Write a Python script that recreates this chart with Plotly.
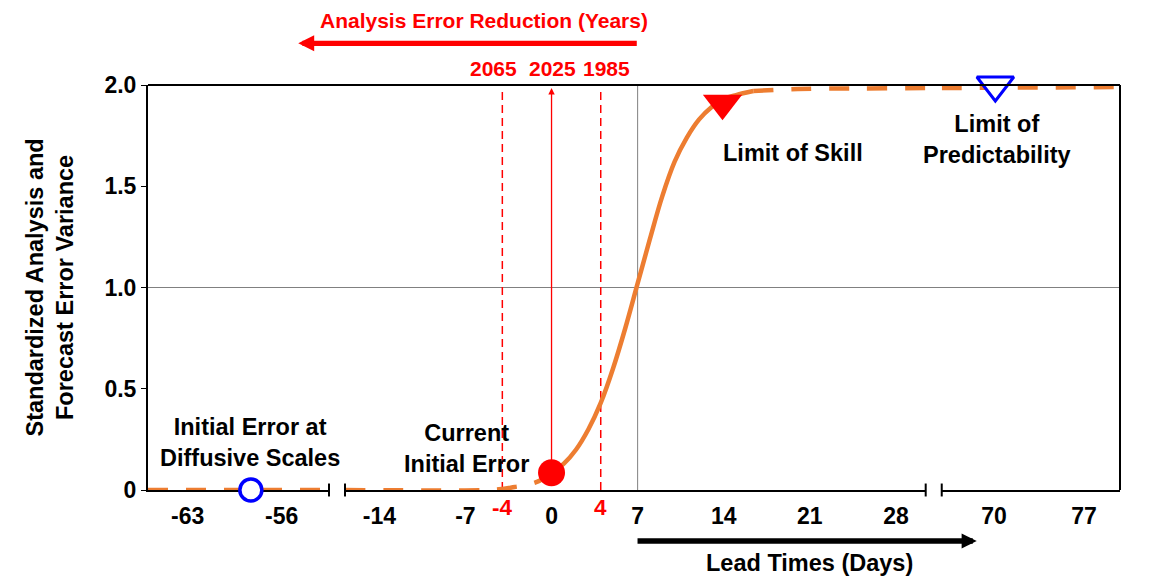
import plotly.graph_objects as go

# broken lead-time axis: three windows of days
seg_ranges = [[-65.96, -52.48], [-16.79, 30.42], [65.93, 79.8]]
seg_ticks = [[-63, -56], [-14, -7, 0, 7, 14, 21, 28], [70, 77]]
var_ticks = [0, 0.5, 1.0, 1.5, 2.0]
var_ticktext = ["0", "0.5", "1.0", "1.5", "2.0"]

# error variance
diffusive_days = [-65.96, -52.48]
diffusive_var = [0, 0]
pre_days = [-16.79, -5, -4, -3, -2, -1, 0]
pre_var = [0, 0, 0.005, 0.015, 0.025, 0.045, 0.085]
growth_days = [0, 1, 2, 3, 4, 5, 6, 7, 8, 9, 10, 11, 12, 13, 14, 15, 16.4]
growth_var = [0.085, 0.13, 0.2, 0.3, 0.43, 0.6, 0.8, 1.02, 1.24, 1.45,
              1.62, 1.74, 1.83, 1.89, 1.93, 1.95, 1.97]
sat_days = [16.4, 20, 25, 30.42]
sat_var = [1.97, 1.98, 1.983, 1.985]
far_days = [65.93, 79.8]
far_var = [1.985, 1.99]

# analysis error reduction (years vs. initial-error lead)
year_days = [-4, 0, 4]
year_labels = ["2065", "2025", "1985"]
year_top = 1.985

# markers
current_err = [0, 0.085]
diffusive_err = [-58.3, 0]
skill_limit = [13.9, 1.91]
predict_limit = [70.1, 2.0]

ORANGE = "#ED7D31"
RED = "#FF0000"
BLUE = "#0000FF"
FONT = "Liberation Sans, Arial, sans-serif"
DASH = "20px,18px"

fig = go.Figure()

# red dashed reference lines at +-4 days
for d in year_days:
    if d == 0:
        continue
    fig.add_trace(go.Scatter(x=[d, d], y=[0, year_top], mode="lines", xaxis="x2", yaxis="y",
                             line=dict(color=RED, width=1.5, dash="8px,5px"),
                             hoverinfo="skip", cliponaxis=False))

# orange error curve, split over the broken axis
fig.add_trace(go.Scatter(x=diffusive_days, y=diffusive_var, mode="lines", xaxis="x", yaxis="y",
                         line=dict(color=ORANGE, width=4.5, dash=DASH), cliponaxis=False))
fig.add_trace(go.Scatter(x=pre_days, y=pre_var, mode="lines", xaxis="x2", yaxis="y",
                         line=dict(color=ORANGE, width=4.5, dash=DASH, shape="spline"), cliponaxis=False))
fig.add_trace(go.Scatter(x=growth_days, y=growth_var, mode="lines", xaxis="x2", yaxis="y",
                         line=dict(color=ORANGE, width=4.5, shape="spline"), cliponaxis=False))
fig.add_trace(go.Scatter(x=sat_days, y=sat_var, mode="lines", xaxis="x2", yaxis="y",
                         line=dict(color=ORANGE, width=4.5, dash=DASH, shape="spline"), cliponaxis=False))
fig.add_trace(go.Scatter(x=far_days, y=far_var, mode="lines", xaxis="x3", yaxis="y",
                         line=dict(color=ORANGE, width=4.5, dash=DASH), cliponaxis=False))

# markers
fig.add_trace(go.Scatter(x=[diffusive_err[0]], y=[diffusive_err[1]], mode="markers", xaxis="x", yaxis="y",
                         marker=dict(symbol="circle", size=22, color="white", line=dict(color=BLUE, width=3.5)),
                         cliponaxis=False))
fig.add_trace(go.Scatter(x=[current_err[0]], y=[current_err[1]], mode="markers", xaxis="x2", yaxis="y",
                         marker=dict(symbol="circle", size=27, color=RED), cliponaxis=False))
fig.add_trace(go.Scatter(x=[skill_limit[0]], y=[skill_limit[1]], mode="markers", xaxis="x2", yaxis="y",
                         marker=dict(symbol="triangle-down", size=34, color=RED), cliponaxis=False))
fig.add_trace(go.Scatter(x=[predict_limit[0]], y=[predict_limit[1]], mode="markers", xaxis="x3", yaxis="y",
                         marker=dict(symbol="triangle-down", size=32, color="white",
                                     line=dict(color=BLUE, width=3)), cliponaxis=False))

xcommon = dict(showgrid=False, zeroline=False, showline=True, linecolor="black", linewidth=2,
               ticks="", ticklabelstandoff=4, layer="below traces",
               tickfont=dict(family=FONT, size=23, color="black", weight="bold"))

# the page body adds an 8px offset, so the margins are pulled in by 8px
fig.update_layout(
    width=1166, height=585,
    margin=dict(l=140, r=54, t=77, b=103),
    paper_bgcolor="white", plot_bgcolor="white",
    showlegend=False,
    xaxis=dict(domain=[0.0, 0.1862], range=seg_ranges[0], tickvals=seg_ticks[0],
               ticktext=[str(v) for v in seg_ticks[0]], anchor="y", **xcommon),
    xaxis2=dict(domain=[0.2027, 0.8001], range=seg_ranges[1], tickvals=seg_ticks[1],
                ticktext=[str(v) for v in seg_ticks[1]], anchor="y", **xcommon),
    xaxis3=dict(domain=[0.8166, 1.0], range=seg_ranges[2], tickvals=seg_ticks[2],
                ticktext=[str(v) for v in seg_ticks[2]], anchor="y", **xcommon),
    yaxis=dict(range=[0, 2], tickvals=var_ticks, ticktext=var_ticktext, anchor="x",
               showgrid=False, zeroline=False, showline=True, linecolor="black", linewidth=2,
               ticks="outside", ticklen=5, tickwidth=1, tickcolor="black", ticklabelstandoff=0,
               layer="below traces",
               tickfont=dict(family=FONT, size=23, color="black", weight="bold")),
)

# frame, grid lines and axis break marks
shapes = [
    dict(type="line", xref="paper", yref="paper", x0=0, x1=1, y0=1, y1=1, line=dict(color="black", width=2)),
    dict(type="line", xref="paper", yref="paper", x0=1, x1=1, y0=0, y1=1, line=dict(color="black", width=2)),
    dict(type="line", xref="paper", yref="y", x0=0, x1=1, y0=1, y1=1, layer="below",
         line=dict(color="#808080", width=1)),
    dict(type="line", xref="x2", yref="paper", x0=7, x1=7, y0=0, y1=1, layer="below",
         line=dict(color="#808080", width=1)),
]
for ax_ref, pos in [("x domain", 1), ("x2 domain", 0), ("x2 domain", 1), ("x3 domain", 0)]:
    shapes.append(dict(type="line", xref=ax_ref, yref="paper", x0=pos, x1=pos, y0=-0.016, y1=0.016,
                       line=dict(color="black", width=2)))
fig.update_layout(shapes=shapes)

black = dict(family=FONT, size=23.5, color="black", weight="bold")
red = dict(family=FONT, size=21, color=RED, weight="bold")
red_tick = dict(family=FONT, size=22.5, color=RED, weight="bold")

ann = []
ann.append(dict(text="Analysis Error Reduction (Years)", xref="paper", yref="paper", x=0.3459, y=1.1588,
                showarrow=False, font=red, xanchor="center", yanchor="middle"))
ann.append(dict(text="", xref="paper", yref="paper", x=0.1546, y=1.103, ax=340, ay=0,
                showarrow=True, arrowhead=2, arrowsize=0.6, arrowwidth=5.3, arrowcolor=RED))
for d, lab, shift in zip(year_days, year_labels, [-9, 1, 6]):
    ann.append(dict(text=lab, xref="x2", yref="paper", x=d, y=1.0412, xshift=shift,
                    showarrow=False, font=red, xanchor="center", yanchor="middle"))
    if d != 0:
        ann.append(dict(text=str(d), xref="x2", yref="paper", x=d, y=-0.0444,
                        showarrow=False, font=red_tick, xanchor="center", yanchor="middle"))
ann.append(dict(text="", xref="x2", yref="y", x=current_err[0], y=year_top,
                axref="x2", ayref="y", ax=current_err[0], ay=current_err[1],
                showarrow=True, arrowhead=2, arrowsize=1, arrowwidth=1.3, arrowcolor=RED))

ann.append(dict(text="Limit of Skill", xref="x2", yref="y", x=19.63, y=1.664,
                showarrow=False, font=black, xanchor="center", yanchor="middle"))
ann.append(dict(text="Limit of<br>Predictability", xref="x3", yref="y", x=70.23, y=1.731,
                showarrow=False, font=black, xanchor="center", yanchor="middle"))
ann.append(dict(text="Initial Error at<br>Diffusive Scales", xref="x", yref="y", x=-58.36, y=0.2356,
                showarrow=False, font=black, xanchor="center", yanchor="middle"))
ann.append(dict(text="Current<br>Initial Error", xref="x2", yref="y", x=-6.95, y=0.2025,
                showarrow=False, font=black, xanchor="center", yanchor="middle"))

ann.append(dict(text="Standardized Analysis and<br>Forecast Error Variance", xref="paper", yref="paper",
                x=-0.1008, y=0.5, textangle=-90, showarrow=False, font=black,
                xanchor="center", yanchor="middle"))

ann.append(dict(text="", xref="paper", yref="paper", x=0.8526, y=-0.1259, ax=-340.7, ay=0,
                showarrow=True, arrowhead=2, arrowsize=0.55, arrowwidth=5.5, arrowcolor="black"))
ann.append(dict(text="Lead Times (Days)", xref="paper", yref="paper", x=0.681, y=-0.1802,
                showarrow=False, font=black, xanchor="center", yanchor="middle"))

fig.update_layout(annotations=ann)

fig.write_html("out.html")
